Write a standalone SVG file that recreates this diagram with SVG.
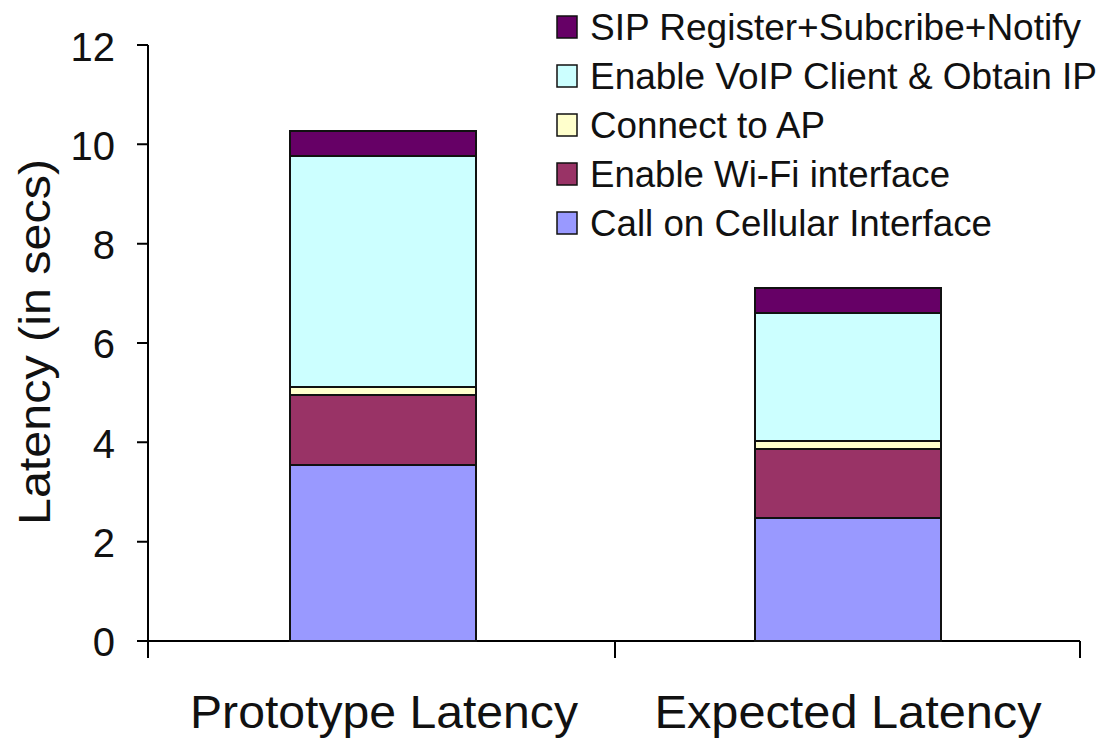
<svg xmlns="http://www.w3.org/2000/svg" width="1103" height="738" viewBox="0 0 1103 738">
<style>
text{font-family:"Liberation Sans",Arial,sans-serif;fill:#111}
.tick{font-size:40px;text-anchor:end}
.leg{font-size:36px}
.cat{font-size:46px;text-anchor:middle}
.bar{stroke:#111;stroke-width:2}
.sip{fill:#660066}.voip{fill:#CCFFFF}.ap{fill:#FFFFCC}.wifi{fill:#993366}.cell{fill:#9999FF}
.ax{stroke:#000;stroke-width:2;fill:none}
</style>
<rect width="1103" height="738" fill="#fff"/>
<g id="axes">
<path class="ax" d="M148 45V641M137 45H148M137 144.3H148M137 243.7H148M137 343H148M137 442.3H148M137 541.7H148M137 641H1080M148 641V658M615 641V658M1080 641V658"/>
<text class="tick" x="115" y="61">12</text>
<text class="tick" x="115" y="160">10</text>
<text class="tick" x="115" y="259">8</text>
<text class="tick" x="115" y="358">6</text>
<text class="tick" x="115" y="458">4</text>
<text class="tick" x="115" y="557">2</text>
<text class="tick" x="115" y="656">0</text>
<text x="0" y="0" font-size="44" text-anchor="middle" transform="translate(50,342) rotate(-90)" textLength="366" lengthAdjust="spacingAndGlyphs">Latency (in secs)</text>
<text class="cat" x="384" y="728" textLength="388" lengthAdjust="spacingAndGlyphs">Prototype Latency</text>
<text class="cat" x="848" y="728" textLength="387" lengthAdjust="spacingAndGlyphs">Expected Latency</text>
</g>
<g id="bar-prototype">
<rect class="bar cell" x="290" y="465" width="186" height="176"/>
<rect class="bar wifi" x="290" y="395" width="186" height="70"/>
<rect class="bar ap" x="290" y="387" width="186" height="8"/>
<rect class="bar voip" x="290" y="156" width="186" height="231"/>
<rect class="bar sip" x="290" y="131" width="186" height="25"/>
</g>
<g id="bar-expected">
<rect class="bar cell" x="755" y="518" width="186" height="123"/>
<rect class="bar wifi" x="755" y="449" width="186" height="69"/>
<rect class="bar ap" x="755" y="441" width="186" height="8"/>
<rect class="bar voip" x="755" y="313" width="186" height="128"/>
<rect class="bar sip" x="755" y="288" width="186" height="25"/>
</g>
<g id="legend">
<rect class="sip" x="557" y="16" width="20" height="22" stroke="#111" stroke-width="1.5"/>
<text class="leg" x="590" y="40" textLength="491" lengthAdjust="spacingAndGlyphs">SIP Register+Subcribe+Notify</text>
<rect class="voip" x="557" y="65" width="20" height="22" stroke="#111" stroke-width="1.5"/>
<text class="leg" x="590" y="89" textLength="507" lengthAdjust="spacingAndGlyphs">Enable VoIP Client &amp; Obtain IP</text>
<rect class="ap" x="557" y="114" width="20" height="22" stroke="#111" stroke-width="1.5"/>
<text class="leg" x="590" y="138" textLength="235" lengthAdjust="spacingAndGlyphs">Connect to AP</text>
<rect class="wifi" x="557" y="163" width="20" height="22" stroke="#111" stroke-width="1.5"/>
<text class="leg" x="590" y="187" textLength="360" lengthAdjust="spacingAndGlyphs">Enable Wi-Fi interface</text>
<rect class="cell" x="557" y="212" width="20" height="22" stroke="#111" stroke-width="1.5"/>
<text class="leg" x="590" y="236" textLength="402" lengthAdjust="spacingAndGlyphs">Call on Cellular Interface</text>
</g>
</svg>
